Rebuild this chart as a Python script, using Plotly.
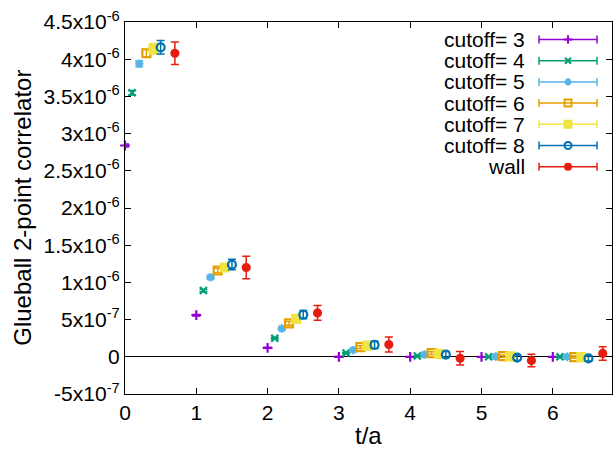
import plotly.graph_objects as go

# ---------------- data ----------------
t_values = [0, 1, 2, 3, 4, 5, 6]

series_names = ["cutoff= 3", "cutoff= 4", "cutoff= 5", "cutoff= 6", "cutoff= 7", "cutoff= 8", "wall"]
series_shift = [0.0, 0.1, 0.2, 0.3, 0.4, 0.5, 0.7]

cut3 = [2.84e-6, 0.56e-6, 0.12e-6, 0.0, 0.0, 0.0, 0.0]
cut3_err = [0.02e-6, 0.01e-6, 0.006e-6, 0.003e-6, 0.002e-6, 0.002e-6, 0.002e-6]
cut4 = [3.55e-6, 0.89e-6, 0.25e-6, 0.05e-6, 0.01e-6, 0.0, 0.0]
cut4_err = [0.03e-6, 0.015e-6, 0.01e-6, 0.008e-6, 0.005e-6, 0.004e-6, 0.004e-6]
cut5 = [3.94e-6, 1.07e-6, 0.38e-6, 0.09e-6, 0.03e-6, 0.005e-6, 0.0]
cut5_err = [0.04e-6, 0.02e-6, 0.015e-6, 0.012e-6, 0.01e-6, 0.008e-6, 0.008e-6]
cut6 = [4.08e-6, 1.16e-6, 0.45e-6, 0.13e-6, 0.05e-6, 0.01e-6, -0.005e-6]
cut6_err = [0.05e-6, 0.03e-6, 0.025e-6, 0.02e-6, 0.018e-6, 0.015e-6, 0.015e-6]
cut7 = [4.14e-6, 1.20e-6, 0.51e-6, 0.15e-6, 0.04e-6, 0.005e-6, -0.005e-6]
cut7_err = [0.07e-6, 0.04e-6, 0.035e-6, 0.03e-6, 0.025e-6, 0.02e-6, 0.02e-6]
cut8 = [4.16e-6, 1.24e-6, 0.567e-6, 0.16e-6, 0.03e-6, -0.01e-6, -0.02e-6]
cut8_err = [0.09e-6, 0.07e-6, 0.055e-6, 0.05e-6, 0.04e-6, 0.035e-6, 0.035e-6]
wall = [4.08e-6, 1.20e-6, 0.59e-6, 0.165e-6, -0.02e-6, -0.05e-6, 0.045e-6]
wall_err = [0.15e-6, 0.15e-6, 0.10e-6, 0.10e-6, 0.09e-6, 0.085e-6, 0.09e-6]

series_values = [cut3, cut4, cut5, cut6, cut7, cut8, wall]
series_errors = [cut3_err, cut4_err, cut5_err, cut6_err, cut7_err, cut8_err, wall_err]

y_tickvals = [-5e-7, 0, 5e-7, 1e-6, 1.5e-6, 2e-6, 2.5e-6, 3e-6, 3.5e-6, 4e-6, 4.5e-6]
y_ticktext = ["-5x10<sup>-7</sup>", "0", "5x10<sup>-7</sup>", "1x10<sup>-6</sup>",
              "1.5x10<sup>-6</sup>", "2x10<sup>-6</sup>", "2.5x10<sup>-6</sup>",
              "3x10<sup>-6</sup>", "3.5x10<sup>-6</sup>", "4x10<sup>-6</sup>",
              "4.5x10<sup>-6</sup>"]
x_tickvals = [0, 1, 2, 3, 4, 5, 6]

# ---------------- styles ----------------
colors = ["#9400d3", "#009e73", "#56b4e9", "#e69f00", "#f0e442", "#0072b2", "#e51e10"]
symbols = ["cross-thin-open", "x-thin-open", "asterisk-open", "square-open",
           "square", "circle-open", "circle"]
sizes = [7, 7, 7, 8, 8, 8, 7]

FONT = "Liberation Sans, Arial, sans-serif"

fig = go.Figure()

for name, shift, vals, errs, col, sym, sz in zip(series_names, series_shift, series_values,
                                                   series_errors, colors, symbols, sizes):
    xs = [t + shift for t in t_values]
    fig.add_trace(go.Scatter(
        x=xs, y=vals, mode="markers", name=name, showlegend=False,
        cliponaxis=False,
        marker=dict(symbol=sym, size=sz, color=col, line=dict(color=col, width=2.2)),
        error_y=dict(type="data", array=errs, visible=True, color=col, thickness=1.5, width=4),
    ))

# legend (gnuplot style: text right-aligned, sample to the right) on an overlay axis
leg_text_x = 0.8255
leg_sample_x = 0.9097
leg_half = 0.0595
leg_y0 = 0.953
leg_dy = 0.057
for i, (name, col, sym, sz) in enumerate(zip(series_names, colors, symbols, sizes)):
    yy = leg_y0 - i * leg_dy
    fig.add_trace(go.Scatter(
        x=[leg_sample_x], y=[yy], xaxis="x2", yaxis="y2", mode="markers",
        showlegend=False, hoverinfo="skip", cliponaxis=False,
        marker=dict(symbol=sym, size=sz - 1, color=col, line=dict(color=col, width=2)),
        error_x=dict(type="data", array=[leg_half], visible=True, color=col,
                     thickness=1.5, width=4),
    ))
    fig.add_annotation(x=leg_text_x, y=yy, xref="x2", yref="y2", text=name,
                       showarrow=False, xanchor="right", yanchor="middle",
                       font=dict(family=FONT, size=21, color="black"))

# axis titles
fig.add_annotation(x=-0.212, y=0.5, xref="paper", yref="paper",
                   text="Glueball 2-point correlator", textangle=-90, showarrow=False,
                   xanchor="center", yanchor="middle",
                   font=dict(family=FONT, size=24, color="black"))
fig.add_annotation(x=0.5, y=-0.112, xref="paper", yref="paper", text="t/a",
                   showarrow=False, xanchor="center", yanchor="middle",
                   font=dict(family=FONT, size=24, color="black"))

fig.update_layout(
    width=616, height=449,
    margin=dict(l=125, r=4, t=22, b=55, autoexpand=False),
    paper_bgcolor="white", plot_bgcolor="white",
    font=dict(family=FONT, size=21, color="black"),
    xaxis=dict(range=[0, 6.83], tickvals=x_tickvals, ticks="inside", ticklen=6,
               tickwidth=1, tickcolor="black", showline=True, linecolor="black",
               linewidth=1.2, mirror="ticks", showgrid=False, zeroline=False,
               automargin=False,
               tickfont=dict(family=FONT, size=21, color="black")),
    yaxis=dict(range=[-5e-7, 4.5e-6], tickvals=y_tickvals, ticktext=y_ticktext,
               ticks="inside", ticklen=6, tickwidth=1, tickcolor="black",
               showline=True, linecolor="black", linewidth=1.2, mirror="ticks",
               showgrid=False, zeroline=True, zerolinecolor="black", zerolinewidth=1.2,
               automargin=False,
               tickfont=dict(family=FONT, size=21, color="black")),
    xaxis2=dict(range=[0, 1], overlaying="x", anchor="y2", visible=False),
    yaxis2=dict(range=[0, 1], overlaying="y", anchor="x2", visible=False),
)

fig.write_html("out.html", config={"displayModeBar": False},
               post_script="document.body.style.margin='0px';")
